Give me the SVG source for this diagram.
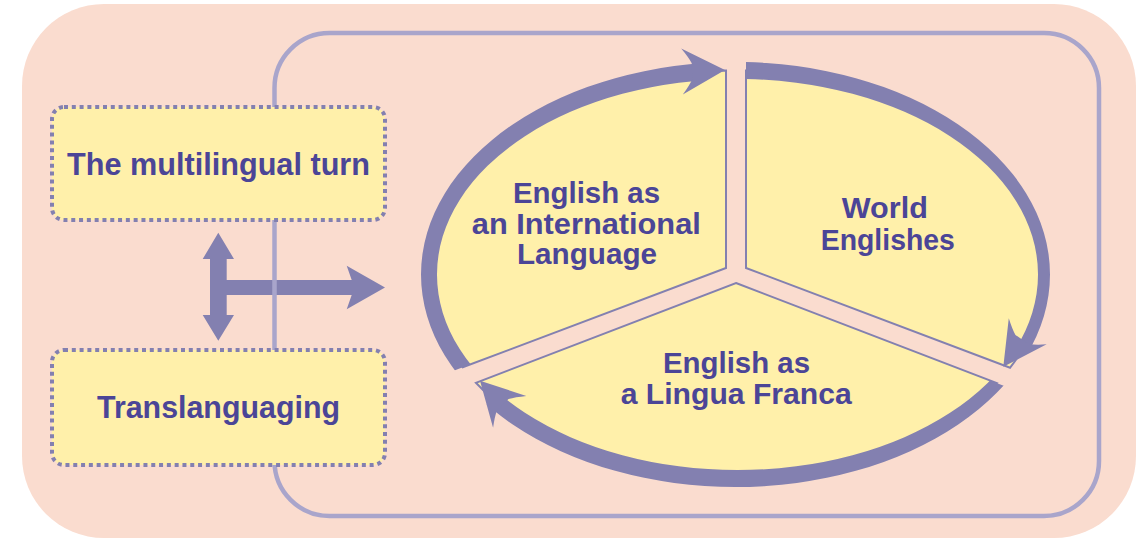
<svg xmlns="http://www.w3.org/2000/svg" xmlns:xlink="http://www.w3.org/1999/xlink" width="1139" height="540" viewBox="0 0 1139 540">
<style>
.bg{fill:#FADCCF}
.frame{fill:none;stroke:#A9A5CB;stroke-width:4.5}
.box{fill:#FFF0AA;stroke:#8380B0;stroke-width:4;stroke-dasharray:4 3.8}
.seg{fill:#FFF0AA;stroke:#8380B0;stroke-width:2;stroke-linejoin:miter}
.ring{fill:#8380B0;fill-rule:evenodd}
.arw{fill:#8380B0}
.t{font-family:"Liberation Sans",Arial,sans-serif;font-weight:bold;fill:#4B4597;text-anchor:middle}
.tb{font-size:31px}
.tc{font-size:29px}
</style>
<defs>
<path id="ringShape" d="M421,274.5 A314.5,212.5 0 1 0 1050,274.5 A314.5,212.5 0 1 0 421,274.5 Z M437,274.5 A300.5,195.5 0 1 0 1038,274.5 A300.5,195.5 0 1 0 437,274.5 Z"/>
<path id="head" d="M0,0 L-43,-23 Q-36,-14 -33,-8 L-33,8 Q-36,14 -43,23 Z"/>
<clipPath id="clipL"><polygon points="726,268 -30,553 -30,-200 652,-200 736,275"/></clipPath>
<clipPath id="clipR"><polygon points="746,268 746,-200 1300,-200 1300,417.5 736,275"/></clipPath>
<clipPath id="clipB"><polygon points="736,283 1300,499.4 1300,700 200,700 200,553 736,275"/></clipPath>
</defs>

<rect class="bg" x="22" y="4" width="1114" height="534" rx="82" ry="82"/>

<g id="connectors">
<polygon class="arw" points="218.3,232.7 234,259 226.7,259 226.7,280 351.7,280 346.7,265.7 385,287.5 346.7,309.3 351.7,295 226.7,295 226.7,315 234,315 218.3,340.7 202.7,315 210,315 210,259 202.7,259"/>
</g>

<rect id="frame" class="frame" x="274.5" y="33" width="824.5" height="483" rx="55" ry="55"/>

<g id="node-multilingual">
<rect class="box" x="52" y="107" width="333" height="113" rx="12" ry="12"/>
<text class="t tb" x="218.5" y="174.5" textLength="303" lengthAdjust="spacingAndGlyphs">The multilingual turn</text>
</g>

<g id="node-translanguaging">
<rect class="box" x="52" y="350" width="333" height="115" rx="12" ry="12"/>
<text class="t tb" x="218.5" y="418.3" textLength="243" lengthAdjust="spacingAndGlyphs">Translanguaging</text>
</g>

<g id="node-eil">
<path class="seg" d="M726,268 L726,70.6 A307.5,204 0 0 0 462.7,367.3 Z"/>
<text class="t tc" x="586.5" y="202.7" textLength="147" lengthAdjust="spacingAndGlyphs">English as</text>
<text class="t tc" x="586.3" y="234" textLength="229" lengthAdjust="spacingAndGlyphs">an International</text>
<text class="t tc" x="587" y="264.3" textLength="140" lengthAdjust="spacingAndGlyphs">Language</text>
</g>

<g id="node-we">
<path class="seg" d="M746,268 L746,70.6 A307.5,204 0 0 1 1010.1,367.7 Z"/>
<text class="t tc" x="884.8" y="218" textLength="86" lengthAdjust="spacingAndGlyphs">World</text>
<text class="t tc" x="887.8" y="250" textLength="134" lengthAdjust="spacingAndGlyphs">Englishes</text>
</g>

<g id="node-elf">
<path class="seg" d="M736,283 L996.9,383.1 A307.5,204 0 0 1 475.9,382.8 Z"/>
<text class="t tc" x="736.5" y="372.7" textLength="147" lengthAdjust="spacingAndGlyphs">English as</text>
<text class="t tc" x="736.2" y="404" textLength="231" lengthAdjust="spacingAndGlyphs">a Lingua Franca</text>
</g>

<g id="cycle-connectors">
<use href="#ringShape" xlink:href="#ringShape" class="ring" clip-path="url(#clipL)"/>
<use href="#ringShape" xlink:href="#ringShape" class="ring" clip-path="url(#clipR)"/>
<use href="#ringShape" xlink:href="#ringShape" class="ring" clip-path="url(#clipB)"/>
<use href="#head" xlink:href="#head" class="arw" transform="translate(725,70) rotate(-2)"/>
<use href="#head" xlink:href="#head" class="arw" transform="translate(1003.3,366.7) rotate(124.6)"/>
<use href="#head" xlink:href="#head" class="arw" transform="translate(480,380.7) rotate(226.3)"/>
</g>
</svg>
